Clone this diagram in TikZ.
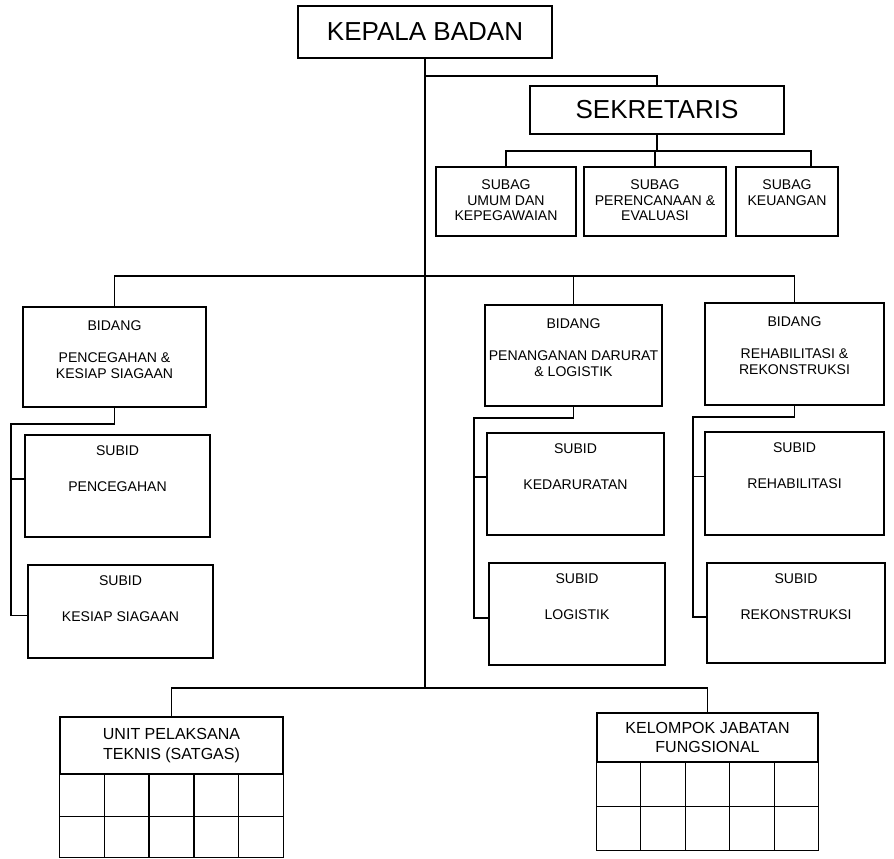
\documentclass[tikz,border=0pt]{standalone}
\usepackage{fontspec}
\setmainfont{Liberation Sans}
\usetikzlibrary{calc,fit}

\tikzset{
    box/.style={draw, inner sep=0pt},
    head/.style={inner sep=0pt, font=\fontsize{18.5}{22}\selectfont},
    unit/.style={inner sep=0pt, align=center, font=\fontsize{11.4}{14}\selectfont},
    txt/.style={inner sep=0pt, align=center, anchor=north, font=\fontsize{10}{11}\selectfont},
}

% text hanging below the top edge of a box
\newcommand{\boxtext}[3]{\node[txt] (#1t) at ($(#1.north)+(0,#2)$) {#3};}

\begin{document}
\begin{tikzpicture}[x=0.025cm, y=-0.025cm, line width=0.9pt]
    \useasboundingbox (0,0) rectangle (894,858);

    % Draw head and secretary
    \node[box, fit={(298,6) (552,58)}] (kepala) {};
    \node[box, fit={(530,86) (784,134)}] (sek) {};
    \node[head] (kepalat) at (kepala.center) {KEPALA BADAN};
    \node[head] (sekt) at (sek.center) {SEKRETARIS};

    % Draw sub-sections of the secretary
    \node[box, fit={(436,167) (576,236)}] (sub1) {};
    \node[box, fit={(584,167) (726,236)}] (sub2) {};
    \node[box, fit={(736,167) (838,236)}] (sub3) {};
    \boxtext{sub1}{13}{SUBAG\\UMUM DAN\\KEPEGAWAIAN}
    \boxtext{sub2}{13}{SUBAG\\PERENCANAAN \&\\EVALUASI}
    \boxtext{sub3}{13}{SUBAG\\KEUANGAN}

    % Draw bidang
    \node[box, fit={(23,307) (206,407)}] (bid1) {};
    \node[box, fit={(485,305) (662,406)}] (bid2) {};
    \node[box, fit={(705,303) (884,405)}] (bid3) {};
    \boxtext{bid1}{14}{BIDANG\\[11.8pt]PENCEGAHAN \&\\KESIAP SIAGAAN}
    \boxtext{bid2}{14}{BIDANG\\[11.8pt]PENANGANAN DARURAT\\\& LOGISTIK}
    \boxtext{bid3}{14}{BIDANG\\[11.8pt]REHABILITASI \&\\REKONSTRUKSI}

    % Draw subid
    \node[box, fit={(25,435) (210,537)}] (pc) {};
    \node[box, fit={(28,565) (213,658)}] (ks) {};
    \node[box, fit={(487,433) (664,535)}] (kd) {};
    \node[box, fit={(489,563) (665,665)}] (lg) {};
    \node[box, fit={(705,432) (884,535)}] (rh) {};
    \node[box, fit={(707,563) (885,663)}] (rk) {};
    \boxtext{pc}{11}{SUBID\\[14.6pt]PENCEGAHAN}
    \boxtext{ks}{11}{SUBID\\[14.6pt]KESIAP SIAGAAN}
    \boxtext{kd}{11}{SUBID\\[14.6pt]KEDARURATAN}
    \boxtext{lg}{11}{SUBID\\[14.6pt]LOGISTIK}
    \boxtext{rh}{11}{SUBID\\[14.6pt]REHABILITASI}
    \boxtext{rk}{11}{SUBID\\[14.6pt]REKONSTRUKSI}

    % Draw units at the bottom with their empty tables
    \node[box, fit={(60,717) (283,774)}] (upt) {};
    \node[box, fit={(597,713) (818,762)}] (kjf) {};
    \node[unit] (uptt) at (upt.center) {UNIT PELAKSANA\\TEKNIS (SATGAS)};
    \node[unit] (kjft) at (kjf.center) {KELOMPOK JABATAN\\FUNGSIONAL};
    \foreach \tbl/\rows in {upt/83, kjf/88} {
        \draw (\tbl.south west) rectangle ($(\tbl.south east)+(0,\rows)$);
        \draw ($(\tbl.south west)+(0,\rows/2)$) -- ($(\tbl.south east)+(0,\rows/2)$);
        \foreach \i in {1,...,4}
            \draw ($(\tbl.south west)!\i/5!(\tbl.south east)$) -- ++(0,\rows);
    }

    % Draw connectors
    \coordinate (hsek) at (425,76);
    \coordinate (hsub) at (656,151);
    \coordinate (s3) at (811,167);
    \coordinate (hbid) at (425,276);
    \coordinate (hbot) at (425,688);
    \draw (kepala.south) -- (hbot);
    \draw (hsek) -| (sek.north);
    \draw (sek.south) -- (sek.south |- hsub);
    \draw (sub1.north) |- (hsub) -| (s3);
    \draw (sub2.north) -- (sub2.north |- hsub);
    \draw (bid1.north) |- (hbid) -| (bid3.north);
    \draw (bid2.north) -- (bid2.north |- hbid);
    \draw (upt.north) |- (hbot) -| (kjf.north);

    % Draw brackets from each bidang to its subid
    \foreach \bid/\sa/\sb/\x/\y in {bid1/pc/ks/11/424, bid2/kd/lg/474/418, bid3/rh/rk/693/417} {
        \draw (\bid.south) |- (\x,\y) |- ($(\sb.west)+(0,4)$);
        \draw ($(\sa.west)+(0,-7)$) -| (\x,\y);
    }
\end{tikzpicture}
\end{document}
